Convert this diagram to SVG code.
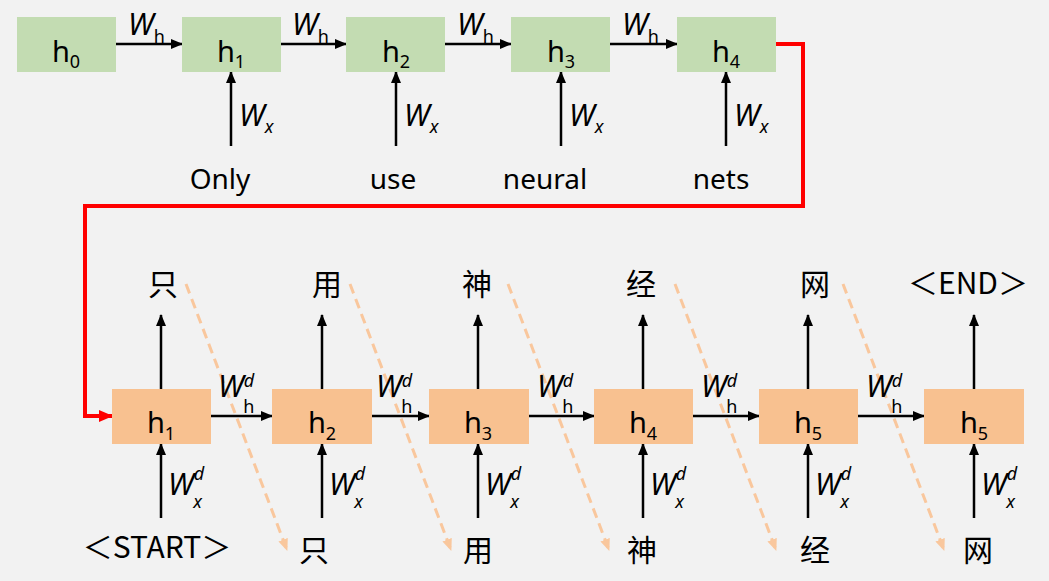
<svg xmlns="http://www.w3.org/2000/svg" width="1049" height="581" viewBox="0 0 1049 581">
<defs>
<style>
.bg{fill:#F2F2F2}
.enc{fill:#C3DCB2}
.dec{fill:#F8C190}
.t{font-family:"Noto Sans","Noto Sans CJK SC",sans-serif;fill:#000}
.cjk{font-family:"Noto Sans CJK SC",sans-serif;fill:#000;font-size:30px;text-anchor:middle}
.hl{font-size:29px;text-anchor:middle}
.w{font-size:30px;font-style:italic}
.s{font-size:18px;font-style:normal}
.si{font-size:18px;font-style:italic}
.word{font-size:28px;text-anchor:middle}
.arr{stroke:#000;stroke-width:2.5;fill:none;marker-end:url(#ah)}
.red{stroke:#FF0000;stroke-width:4;fill:none;marker-end:url(#rh)}
.dash{stroke:#F9C79D;stroke-width:3;stroke-dasharray:10 6;fill:none;marker-end:url(#oh)}
</style>
<marker id="ah" markerUnits="userSpaceOnUse" markerWidth="12" markerHeight="10" refX="11" refY="5" orient="auto"><path d="M0,0 L12,5 L0,10 Z" fill="#000"/></marker>
<marker id="rh" markerUnits="userSpaceOnUse" markerWidth="14" markerHeight="12" refX="13" refY="6" orient="auto"><path d="M0,0 L14,6 L0,12 Z" fill="#FF0000"/></marker>
<marker id="oh" markerUnits="userSpaceOnUse" markerWidth="12" markerHeight="10" refX="11" refY="5" orient="auto"><path d="M0,0 L12,5 L0,10 Z" fill="#F9C79D"/></marker>
</defs>
<rect class="bg" x="0" y="0" width="1049" height="581"/>

<g id="connectors">
<path class="arr" d="M116,44 H182"/>
<path class="arr" d="M281,44 H346"/>
<path class="arr" d="M445,44 H511"/>
<path class="arr" d="M610,44 H677"/>
<path class="arr" d="M231,146 V72"/>
<path class="arr" d="M396,146 V72"/>
<path class="arr" d="M561,146 V72"/>
<path class="arr" d="M726,146 V72"/>
<path class="red" d="M776,44 H803 V206 H85 V416 H112"/>
<path class="arr" d="M211,416 H272"/>
<path class="arr" d="M372,416 H429"/>
<path class="arr" d="M529,416 H594"/>
<path class="arr" d="M693,416 H759"/>
<path class="arr" d="M858,416 H924"/>
<path class="arr" d="M161,518 V444"/>
<path class="arr" d="M322,518 V444"/>
<path class="arr" d="M478,518 V444"/>
<path class="arr" d="M643,518 V444"/>
<path class="arr" d="M808,518 V444"/>
<path class="arr" d="M974,518 V444"/>
<path class="arr" d="M161,389 V315"/>
<path class="arr" d="M322,389 V315"/>
<path class="arr" d="M478,389 V315"/>
<path class="arr" d="M643,389 V315"/>
<path class="arr" d="M808,389 V315"/>
<path class="arr" d="M974,389 V315"/>
<path class="dash" d="M186,284 L287,550"/>
<path class="dash" d="M350,284 L451,550"/>
<path class="dash" d="M508,284 L609,550"/>
<path class="dash" d="M675,284 L776,550"/>
<path class="dash" d="M843,284 L944,550"/>
</g>

<g id="weights" class="t">
<text class="w" x="128" y="35">W<tspan class="s" dy="8">h</tspan></text>
<text class="w" x="292" y="35">W<tspan class="s" dy="8">h</tspan></text>
<text class="w" x="457" y="35">W<tspan class="s" dy="8">h</tspan></text>
<text class="w" x="622" y="35">W<tspan class="s" dy="8">h</tspan></text>
<text class="w" x="239" y="126">W<tspan class="si" dy="7">x</tspan></text>
<text class="w" x="404" y="126">W<tspan class="si" dy="7">x</tspan></text>
<text class="w" x="569" y="126">W<tspan class="si" dy="7">x</tspan></text>
<text class="w" x="734" y="126">W<tspan class="si" dy="7">x</tspan></text>
<text class="w" x="218" y="397">W<tspan class="si" dy="-10">d</tspan><tspan class="s" dx="-11" dy="26">h</tspan></text>
<text class="w" x="376" y="397">W<tspan class="si" dy="-10">d</tspan><tspan class="s" dx="-11" dy="26">h</tspan></text>
<text class="w" x="537" y="397">W<tspan class="si" dy="-10">d</tspan><tspan class="s" dx="-11" dy="26">h</tspan></text>
<text class="w" x="701" y="397">W<tspan class="si" dy="-10">d</tspan><tspan class="s" dx="-11" dy="26">h</tspan></text>
<text class="w" x="866" y="397">W<tspan class="si" dy="-10">d</tspan><tspan class="s" dx="-11" dy="26">h</tspan></text>
<text class="w" x="168" y="495">W<tspan class="si" dy="-15">d</tspan><tspan class="si" dx="-11" dy="28">x</tspan></text>
<text class="w" x="329" y="495">W<tspan class="si" dy="-15">d</tspan><tspan class="si" dx="-11" dy="28">x</tspan></text>
<text class="w" x="485" y="495">W<tspan class="si" dy="-15">d</tspan><tspan class="si" dx="-11" dy="28">x</tspan></text>
<text class="w" x="650" y="495">W<tspan class="si" dy="-15">d</tspan><tspan class="si" dx="-11" dy="28">x</tspan></text>
<text class="w" x="815" y="495">W<tspan class="si" dy="-15">d</tspan><tspan class="si" dx="-11" dy="28">x</tspan></text>
<text class="w" x="981" y="495">W<tspan class="si" dy="-15">d</tspan><tspan class="si" dx="-11" dy="28">x</tspan></text>
</g>

<g id="enc-h0"><rect class="enc" x="17" y="17" width="99" height="55"/><text class="t hl" x="66" y="62">h<tspan class="s" dy="6">0</tspan></text></g>
<g id="enc-h1"><rect class="enc" x="182" y="17" width="99" height="55"/><text class="t hl" x="231" y="62">h<tspan class="s" dy="6">1</tspan></text></g>
<g id="enc-h2"><rect class="enc" x="346" y="17" width="99" height="55"/><text class="t hl" x="396" y="62">h<tspan class="s" dy="6">2</tspan></text></g>
<g id="enc-h3"><rect class="enc" x="511" y="17" width="99" height="55"/><text class="t hl" x="561" y="62">h<tspan class="s" dy="6">3</tspan></text></g>
<g id="enc-h4"><rect class="enc" x="677" y="17" width="99" height="55"/><text class="t hl" x="726" y="62">h<tspan class="s" dy="6">4</tspan></text></g>

<g id="src-words" class="t">
<text class="word" x="220" y="189">Only</text>
<text class="word" x="393" y="189">use</text>
<text class="word" x="545" y="189">neural</text>
<text class="word" x="721" y="189">nets</text>
</g>

<g id="dec-h1"><rect class="dec" x="112" y="389" width="99" height="55"/><text class="t hl" x="161" y="433">h<tspan class="s" dy="7">1</tspan></text></g>
<g id="dec-h2"><rect class="dec" x="272" y="389" width="100" height="55"/><text class="t hl" x="322" y="433">h<tspan class="s" dy="7">2</tspan></text></g>
<g id="dec-h3"><rect class="dec" x="429" y="389" width="100" height="55"/><text class="t hl" x="478" y="433">h<tspan class="s" dy="7">3</tspan></text></g>
<g id="dec-h4"><rect class="dec" x="594" y="389" width="99" height="55"/><text class="t hl" x="643" y="433">h<tspan class="s" dy="7">4</tspan></text></g>
<g id="dec-h5"><rect class="dec" x="759" y="389" width="99" height="55"/><text class="t hl" x="808" y="433">h<tspan class="s" dy="7">5</tspan></text></g>
<g id="dec-h5b"><rect class="dec" x="924" y="389" width="100" height="55"/><text class="t hl" x="974" y="433">h<tspan class="s" dy="7">5</tspan></text></g>

<g id="out-words">
<text class="cjk" x="163" y="295">只</text>
<text class="cjk" x="327" y="295">用</text>
<text class="cjk" x="477" y="295">神</text>
<text class="cjk" x="641" y="295">经</text>
<text class="cjk" x="815" y="295">网</text>
<text class="cjk" x="968" y="294" font-size="28">＜END＞</text>
</g>

<g id="in-words">
<text class="cjk" x="157" y="558" font-size="29">＜START＞</text>
<text class="cjk" x="314" y="561">只</text>
<text class="cjk" x="478" y="561">用</text>
<text class="cjk" x="642" y="561">神</text>
<text class="cjk" x="815" y="561">经</text>
<text class="cjk" x="978" y="561">网</text>
</g>
</svg>
